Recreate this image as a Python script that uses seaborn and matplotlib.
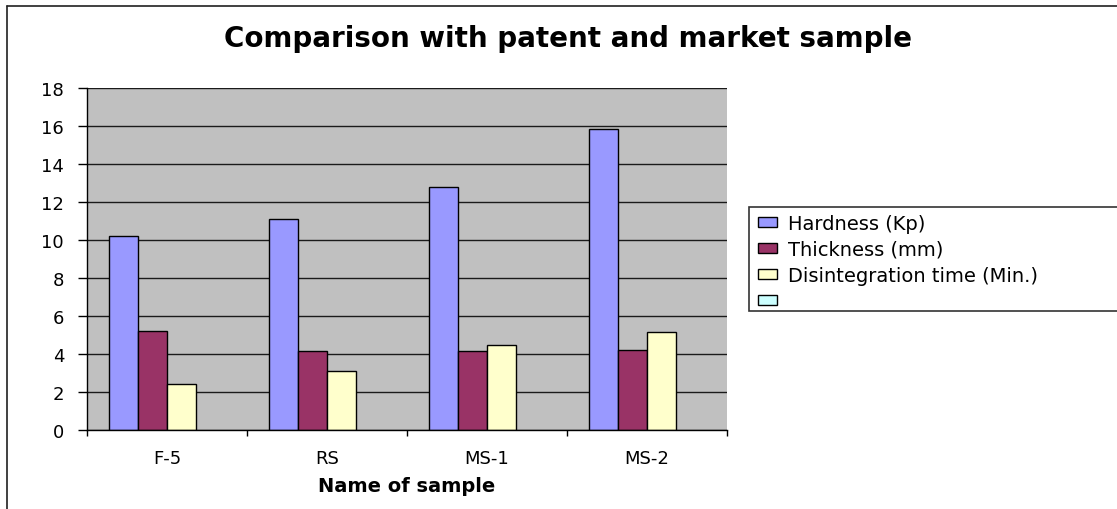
import numpy as np
import pandas as pd
import matplotlib
matplotlib.use("Agg")
import matplotlib.pyplot as plt
import seaborn as sns
from matplotlib.patches import Patch, Rectangle
from matplotlib.lines import Line2D

# Sample names and measured properties
samples = ["F-5", "RS", "MS-1", "MS-2"]
hardness = [10.2, 11.1, 12.8, 15.85]
thickness = [5.2, 4.15, 4.15, 4.2]
disintegration = [2.4, 3.1, 4.45, 5.15]

series_names = ["Hardness (Kp)", "Thickness (mm)", "Disintegration time (Min.)", ""]
series_colors = ["#9999FF", "#993366", "#FFFFCC", "#CCFFFF"]
y_ticks = [0, 2, 4, 6, 8, 10, 12, 14, 16, 18]

df = pd.DataFrame({
    "sample": samples * 3,
    "series": [series_names[0]] * 4 + [series_names[1]] * 4 + [series_names[2]] * 4,
    "value": hardness + thickness + disintegration,
})

sns.set_style("white")
plt.rcParams["font.family"] = ["DejaVu Sans"]
plt.rcParams["text.color"] = "black"
plt.rcParams["axes.labelcolor"] = "black"
plt.rcParams["xtick.color"] = "black"
plt.rcParams["ytick.color"] = "black"

W, H = 1117, 510
fig = plt.figure(figsize=(W / 100, H / 100), dpi=100)
ax = fig.add_axes([87 / W, 1 - 431 / H, 640 / W, 342 / H])
ax.set_facecolor("#C0C0C0")

palette = dict(zip(series_names, series_colors))
sns.barplot(data=df, x="sample", y="value", hue="series", hue_order=series_names,
            order=samples, palette=palette, width=0.727, gap=0, dodge=True,
            edgecolor="black", linewidth=1.0, saturation=1, legend=False, ax=ax,
            errorbar=None)

ax.set_xlim(-0.5, len(samples) - 0.5)
ax.set_ylim(0, 18)
ax.set_yticks(y_ticks)
ax.set_axisbelow(True)
ax.yaxis.grid(True, color="#1a1a1a", linewidth=1.0)
ax.xaxis.grid(False)

ax.spines["right"].set_visible(False)
ax.spines["top"].set_visible(False)
ax.spines["left"].set_color("black")
ax.spines["bottom"].set_color("black")
ax.spines["left"].set_linewidth(1.0)
ax.spines["bottom"].set_linewidth(1.0)

ax.tick_params(axis="y", direction="out", length=6.5, width=1, color="black",
               pad=10, labelsize=13, left=True, labelcolor="black")
ax.tick_params(axis="x", which="major", length=0, pad=14, labelsize=13,
               labelcolor="black")
ax.set_xticks(np.arange(-0.5, len(samples), 1.0), minor=True)
ax.tick_params(axis="x", which="minor", direction="out", length=4, width=1,
               color="black", bottom=True)

ax.set_ylabel("")
ax.set_xlabel("Name of sample", fontsize=14, fontweight="bold", color="black")
ax.xaxis.set_label_coords(0.5, (431 - 487) / 342)
ax.xaxis.label.set_va("center")

fig.text(568 / W, 1 - 39 / H, "Comparison with patent and market sample",
         ha="center", va="center", fontsize=20, fontweight="bold", color="black")

# Chart area border
fig.add_artist(Line2D([6.5 / W, 6.5 / W], [0, 1 - 7 / H], color="#202020", lw=1.2))
fig.add_artist(Line2D([6.5 / W, 1], [1 - 7 / H, 1 - 7 / H], color="#202020", lw=1.2))

# Legend frame and entries
fig.add_artist(Rectangle((749 / W, 1 - 312 / H), 400 / W, 104 / H,
                         transform=fig.transFigure, facecolor="white",
                         edgecolor="#333333", lw=1.2))
handles = [Patch(facecolor=c, edgecolor="black", linewidth=1.0) for c in series_colors]
fig.legend(handles, series_names, loc="upper left",
           bbox_to_anchor=(758 / W, 1 - 215 / H), frameon=False, fontsize=14,
           labelcolor="black", borderpad=0, borderaxespad=0, handlelength=1.0,
           handleheight=0.45, handletextpad=0.55, labelspacing=0.36)

fig.savefig("out.png", dpi=100)
